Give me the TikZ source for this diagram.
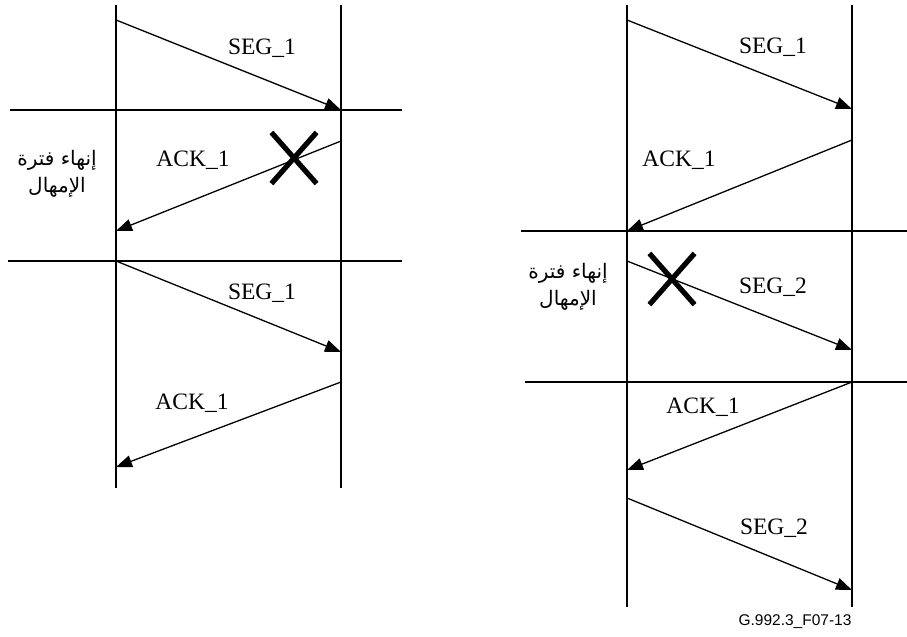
\documentclass[tikz,border=0pt]{standalone}
\usepackage{fontspec}
\setmainfont{Liberation Serif}
\newfontfamily\arabicfont[Script=Arabic]{DejaVu Sans}
\newfontfamily\figfont{Liberation Sans}
\TeXXeTstate=1
\usetikzlibrary{arrows.meta, positioning, shapes.misc}

\begin{document}
\begin{tikzpicture}[x=0.5pt, y=-0.5pt, line width=0.65pt,
  msg/.style={-{Triangle[length=8pt,width=6pt]}},
  lbl/.style={font=\fontsize{11.75}{14}\selectfont, inner sep=0pt},
  timeout/.style={font=\fontsize{10}{13.5}\arabicfont, align=center, inner sep=0pt},
  lost/.style={draw, cross out, line width=2.6pt, inner sep=0pt, minimum width=20pt, minimum height=23pt}]
  \useasboundingbox (0,0) rectangle (907,637);

  % left exchange
  \coordinate (lAtop) at (116,5);
  \coordinate (lAbot) at (116,488);
  \coordinate (lBtop) at (341,5);
  \coordinate (lBbot) at (341,488);
  \coordinate (lcut1w) at (10,110);
  \coordinate (lcut1e) at (402,110);
  \coordinate (lcut2w) at (8,261);
  \coordinate (lcut2e) at (402,261);
  \draw (lAtop) -- (lAbot);
  \draw (lBtop) -- (lBbot);
  \draw (lcut1w) -- (lcut1e);
  \draw (lcut2w) -- (lcut2e);

  \coordinate (lA1) at (116,20);
  \coordinate (lB1) at (341,110);
  \coordinate (lB2) at (341,141);
  \coordinate (lA2) at (116,231);
  \coordinate (lA3) at (116,261);
  \coordinate (lB3) at (341,352);
  \coordinate (lB4) at (341,382);
  \coordinate (lA4) at (116,467);
  \draw[msg] (lA1) -- (lB1);
  \draw[msg] (lB2) -- (lA2);
  \draw[msg] (lA3) -- (lB3);
  \draw[msg] (lB4) -- (lA4);

  \node[lbl] (lseg1) at (262,48) {SEG\_1};
  \node[lbl] (lack1) at (193,160) {ACK\_1};
  \node[lbl] (lseg1b) at (262,293) {SEG\_1};
  \node[lbl] (lack1b) at (192,403) {ACK\_1};
  \node[lost] (ldrop) at (294,158) {};
  \node[timeout] (lto) at (57,174) {\beginR إنهاء فترة\endR\\\beginR الإمهال\endR};

  % right exchange
  \coordinate (rAtop) at (627,5);
  \coordinate (rAbot) at (627,607);
  \coordinate (rBtop) at (852,5);
  \coordinate (rBbot) at (852,607);
  \coordinate (rcut1w) at (521,231);
  \coordinate (rcut1e) at (907,231);
  \coordinate (rcut2w) at (525,382);
  \coordinate (rcut2e) at (907,382);
  \draw (rAtop) -- (rAbot);
  \draw (rBtop) -- (rBbot);
  \draw (rcut1w) -- (rcut1e);
  \draw (rcut2w) -- (rcut2e);

  \coordinate (rA1) at (627,20);
  \coordinate (rB1) at (852,109);
  \coordinate (rB2) at (852,140);
  \coordinate (rA2) at (627,231);
  \coordinate (rA3) at (627,261);
  \coordinate (rB3) at (852,350);
  \coordinate (rB4) at (852,382);
  \coordinate (rA4) at (627,470);
  \coordinate (rA5) at (627,498);
  \coordinate (rB5) at (852,590);
  \draw[msg] (rA1) -- (rB1);
  \draw[msg] (rB2) -- (rA2);
  \draw[msg] (rA3) -- (rB3);
  \draw[msg] (rB4) -- (rA4);
  \draw[msg] (rA5) -- (rB5);

  \node[lbl] (rseg1) at (773,47) {SEG\_1};
  \node[lbl] (rack1) at (679,160) {ACK\_1};
  \node[lbl] (rseg2) at (773,287) {SEG\_2};
  \node[lbl] (rack1b) at (703,407) {ACK\_1};
  \node[lbl] (rseg2b) at (774,528) {SEG\_2};
  \node[lost] (rdrop) at (672,279) {};
  \node[timeout] (rto) at (568,287) {\beginR إنهاء فترة\endR\\\beginR الإمهال\endR};

  \node[font=\fontsize{7.75}{9}\figfont, inner sep=0pt] (figid) at (795,622) {G.992.3\_F07-13};
\end{tikzpicture}
\end{document}
